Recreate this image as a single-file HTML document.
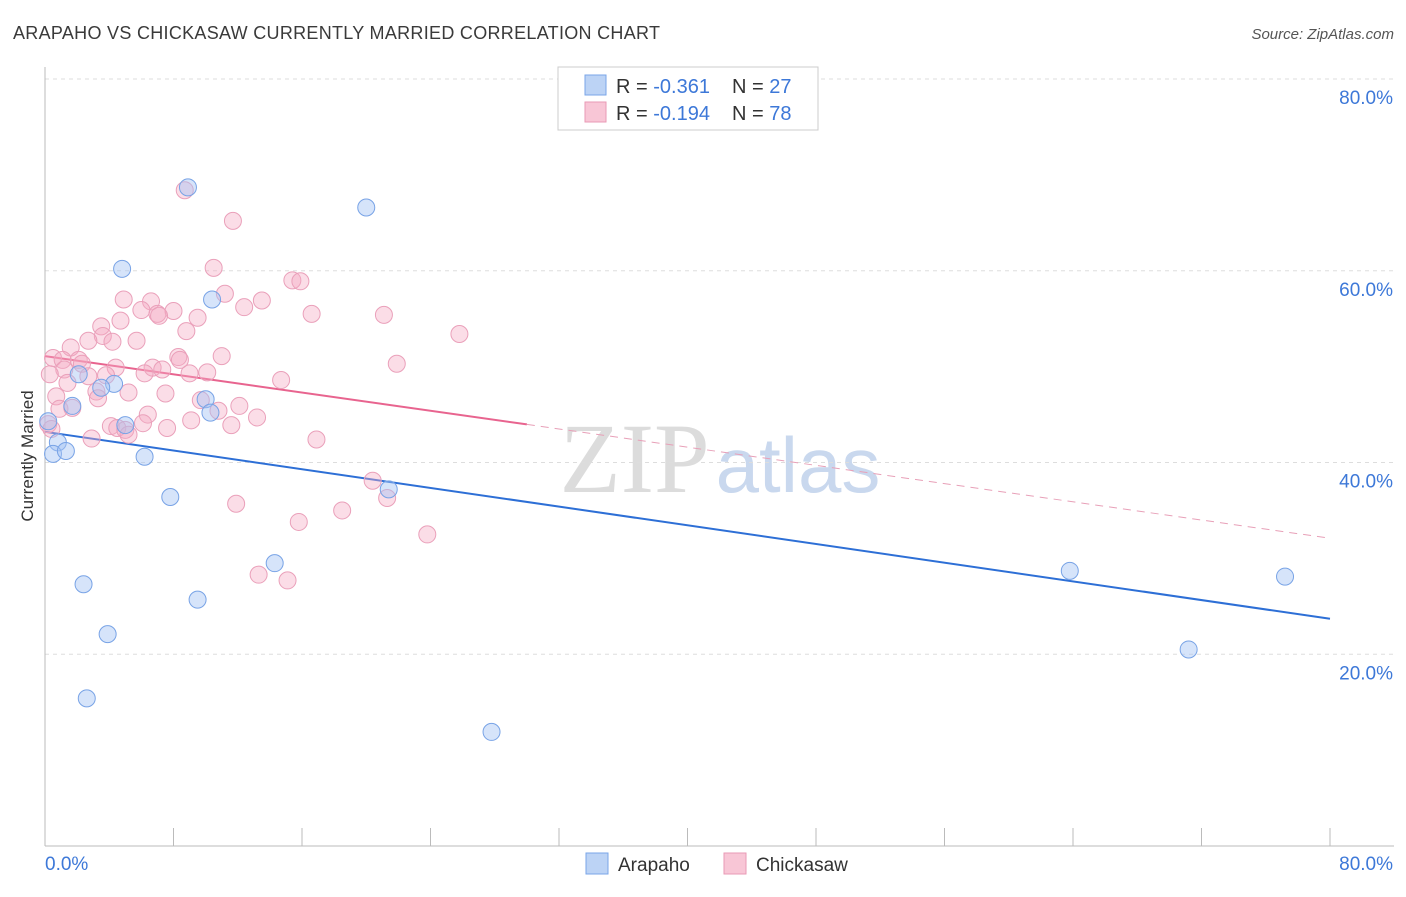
<!DOCTYPE html>
<html><head><meta charset="utf-8"><style>
body{margin:0;background:#fff;font-family:"Liberation Sans",sans-serif;}
svg text{font-family:"Liberation Sans",sans-serif;}
</style></head><body>
<svg id="chart" width="1406" height="892" xmlns="http://www.w3.org/2000/svg">
<text x="13" y="39" font-size="18" fill="#3a3a3a" textLength="647" lengthAdjust="spacing">ARAPAHO VS CHICKASAW CURRENTLY MARRIED CORRELATION CHART</text>
<text x="1394" y="39" font-size="15" fill="#555" text-anchor="end" font-style="italic">Source: ZipAtlas.com</text>
<text x="720" y="492" font-size="100" text-anchor="middle"><tspan fill="#dcdcdc" font-family="Liberation Serif">ZIP</tspan><tspan fill="#c9d8ee" font-size="78" dx="6">atlas</tspan></text>
<g id="grid"></g>
<g id="axes"></g>
<g id="trends"></g>
<g id="points"></g>
<text transform="translate(33,456) rotate(-90)" font-size="17" fill="#333" text-anchor="middle">Currently Married</text>
<g>
<rect x="558" y="67" width="260" height="63" fill="#fff" stroke="#ccc"/>
<rect x="585" y="75" width="21" height="20" fill="#bcd3f5" stroke="#7aa6e8"/>
<rect x="585" y="102" width="21" height="20" fill="#f8c6d6" stroke="#e99ab5"/>
<text x="616" y="93" font-size="20" fill="#333">R = <tspan fill="#3d78d8">-0.361</tspan><tspan dx="22">N = </tspan><tspan fill="#3d78d8">27</tspan></text>
<text x="616" y="120" font-size="20" fill="#333">R = <tspan fill="#3d78d8">-0.194</tspan><tspan dx="22">N = </tspan><tspan fill="#3d78d8">78</tspan></text>
</g>
<g>
<rect x="586" y="853" width="22" height="21" fill="#bcd3f5" stroke="#7aa6e8"/>
<text x="618" y="871" font-size="19" fill="#333">Arapaho</text>
<rect x="724" y="853" width="22" height="21" fill="#f8c6d6" stroke="#e99ab5"/>
<text x="756" y="871" font-size="19" fill="#333">Chickasaw</text>
</g>
</svg>
<script>
const arapahoX=[8.9,20.0,4.8,10.4,4.3,3.5,2.1,1.7,5.0,10.0,10.3,0.2,0.8,0.5,1.3,6.2,7.8,21.4,14.3,2.4,9.5,3.9,2.6,27.8,63.8,71.2,77.2];
const arapahoY=[68.7,66.6,60.2,57.0,48.2,47.8,49.2,45.9,43.9,46.6,45.2,44.3,42.1,40.9,41.2,40.6,36.4,37.2,29.5,27.3,25.7,22.1,15.4,11.9,28.7,20.5,28.1];
const chickX=[8.7,11.7,10.5,15.4,15.9,11.2,13.5,4.9,6.6,6.0,7.0,8.0,7.1,12.4,16.6,21.1,9.5,4.7,3.5,8.8,25.8,3.6,2.7,4.2,5.7,1.6,11.0,8.3,8.4,0.5,1.1,2.1,2.3,21.9,6.7,4.4,1.2,0.3,7.3,9.0,10.1,3.8,6.2,2.7,14.7,1.4,3.2,5.2,7.5,3.3,0.7,9.7,12.1,10.8,0.9,1.7,6.4,13.2,9.1,6.1,11.6,4.1,4.5,5.0,7.6,2.9,5.2,0.2,16.9,20.4,21.3,11.9,18.5,15.8,23.8,13.3,15.1,0.4];
const chickY=[68.4,65.2,60.3,59.0,58.9,57.6,56.9,57.0,56.8,55.9,55.5,55.8,55.3,56.2,55.5,55.4,55.1,54.8,54.2,53.7,53.4,53.2,52.7,52.6,52.7,52.0,51.1,51.0,50.7,50.9,50.7,50.7,50.3,50.3,49.9,49.9,49.7,49.2,49.7,49.3,49.4,49.1,49.3,49.0,48.6,48.3,47.4,47.3,47.2,46.7,46.9,46.5,45.9,45.4,45.6,45.7,45.0,44.7,44.4,44.1,43.9,43.8,43.6,43.4,43.6,42.5,42.9,44.0,42.4,38.1,36.3,35.7,35.0,33.8,32.5,28.3,27.7,43.5];
const blueTrend=[43.2,23.7];
const pinkTrend=[51.1,32.1];
const pinkSolidEnd=30;
const yTicks=[20,40,60,80];
const yTickLabels=["20.0%","40.0%","60.0%","80.0%"];
const xTicks=[0,8,16,24,32,40,48,56,64,72,80];

const NS="http://www.w3.org/2000/svg";
const sx=v=>45+v*(1330-45)/80;
const sy=v=>846-v*(846-79)/80;
function mk(tag,attrs,parent){const e=document.createElementNS(NS,tag);for(const k in attrs)e.setAttribute(k,attrs[k]);parent.appendChild(e);return e;}
const grid=document.getElementById('grid'),axes=document.getElementById('axes'),tr=document.getElementById('trends'),pts=document.getElementById('points');
yTicks.forEach((t,i)=>{
 const l=mk('line',{x1:45,x2:1394,y1:sy(t),y2:sy(t),stroke:'#ddd','stroke-dasharray':'4,4'},grid);
 
 
 const tx=mk('text',{x:1393,y:sy(t)+25,'font-size':19,fill:'#3d78d8','text-anchor':'end'},axes);
 tx.textContent=yTickLabels[i];
 
 
});
const ya=mk('line',{x1:45,x2:45,y1:67,y2:846,stroke:'#bbb'},axes);


const xa=mk('line',{x1:45,x2:1394,y1:846,y2:846,stroke:'#bbb'},axes);


xTicks.forEach(t=>{
 const l=mk('line',{x1:sx(t),x2:sx(t),y1:828,y2:846,stroke:'#bbb'},axes);
 
 
});
const xl0=mk('text',{x:45,y:870,'font-size':19,fill:'#3d78d8'},axes);xl0.textContent='0.0%';


const xl1=mk('text',{x:1393,y:870,'font-size':19,fill:'#3d78d8','text-anchor':'end'},axes);xl1.textContent='80.0%';



chickX.forEach((x,i)=>{
 const c=mk('circle',{cx:sx(x),cy:sy(chickY[i]),r:8.5,fill:'rgba(244,170,196,0.4)',stroke:'#eaa0ba','stroke-width':1},pts);
 
 
});
arapahoX.forEach((x,i)=>{
 const c=mk('circle',{cx:sx(x),cy:sy(arapahoY[i]),r:8.5,fill:'rgba(164,196,244,0.45)',stroke:'#78a3e6','stroke-width':1},pts);
 
 
});
const bt=mk('line',{x1:sx(0),y1:sy(blueTrend[0]),x2:sx(80),y2:sy(blueTrend[1]),stroke:'#2d6fd6','stroke-width':2},tr);


const pAt=x=>pinkTrend[0]+(pinkTrend[1]-pinkTrend[0])*x/80;
const pt=mk('line',{x1:sx(0),y1:sy(pinkTrend[0]),x2:sx(pinkSolidEnd),y2:sy(pAt(pinkSolidEnd)),stroke:'#e8648f','stroke-width':2},tr);


const pd=mk('line',{x1:sx(pinkSolidEnd),y1:sy(pAt(pinkSolidEnd)),x2:sx(80),y2:sy(pinkTrend[1]),stroke:'#e8a0b8','stroke-width':1,'stroke-dasharray':'8,6'},tr);


</script>
</body></html>
